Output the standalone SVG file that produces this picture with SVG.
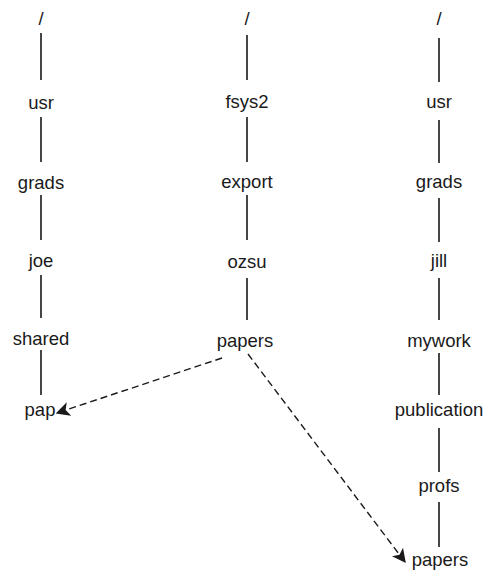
<svg xmlns="http://www.w3.org/2000/svg" width="486" height="573" viewBox="0 0 486 573">
<style>
text{font-family:"Liberation Sans",Arial,sans-serif;font-size:18.5px;fill:#1a1a1a;text-anchor:middle}
.t{stroke:#1a1a1a;stroke-width:1.6;fill:none}
.d{stroke:#1a1a1a;stroke-width:1.4;fill:none;stroke-dasharray:7 4}
</style>
<defs>
<marker id="ah" viewBox="0 0 10 10" refX="9" refY="5" markerWidth="14" markerHeight="14" markerUnits="userSpaceOnUse" orient="auto">
<path d="M0,0 L10,5 L0,10 L2.5,5 z" fill="#1a1a1a"/>
</marker>
</defs>
<rect width="486" height="573" fill="#fff"/>
<g id="connectors">
<path class="t" d="M41,33V80M41,117V162M41,195V240M41,275V318M41,350V395"/>
<path class="t" d="M247,35V80M247,117V162M247,195V240M247,278V320"/>
<path class="t" d="M439,38V82M439,120V163M439,198V242M439,278V320M439,353V395M439,428V472M439,502V547"/>
<path class="d" d="M222,358L57,413" marker-end="url(#ah)"/>
<path class="d" d="M248,354L405,562" marker-end="url(#ah)"/>
</g>
<g id="l0"><text x="41" y="25">/</text></g>
<g id="l1"><text x="41" y="109">usr</text></g>
<g id="l2"><text x="41" y="189">grads</text></g>
<g id="l3"><text x="41" y="267">joe</text></g>
<g id="l4"><text x="41" y="345">shared</text></g>
<g id="l5"><text x="40" y="416">pap</text></g>
<g id="m0"><text x="247" y="25">/</text></g>
<g id="m1"><text x="247" y="108">fsys2</text></g>
<g id="m2"><text x="247" y="188">export</text></g>
<g id="m3"><text x="247" y="268">ozsu</text></g>
<g id="m4"><text x="245" y="347">papers</text></g>
<g id="r0"><text x="439" y="25">/</text></g>
<g id="r1"><text x="439" y="108">usr</text></g>
<g id="r2"><text x="439" y="188">grads</text></g>
<g id="r3"><text x="439" y="267">jill</text></g>
<g id="r4"><text x="439" y="347">mywork</text></g>
<g id="r5"><text x="439" y="416">publication</text></g>
<g id="r6"><text x="439" y="492">profs</text></g>
<g id="r7"><text x="440" y="566">papers</text></g>
</svg>
